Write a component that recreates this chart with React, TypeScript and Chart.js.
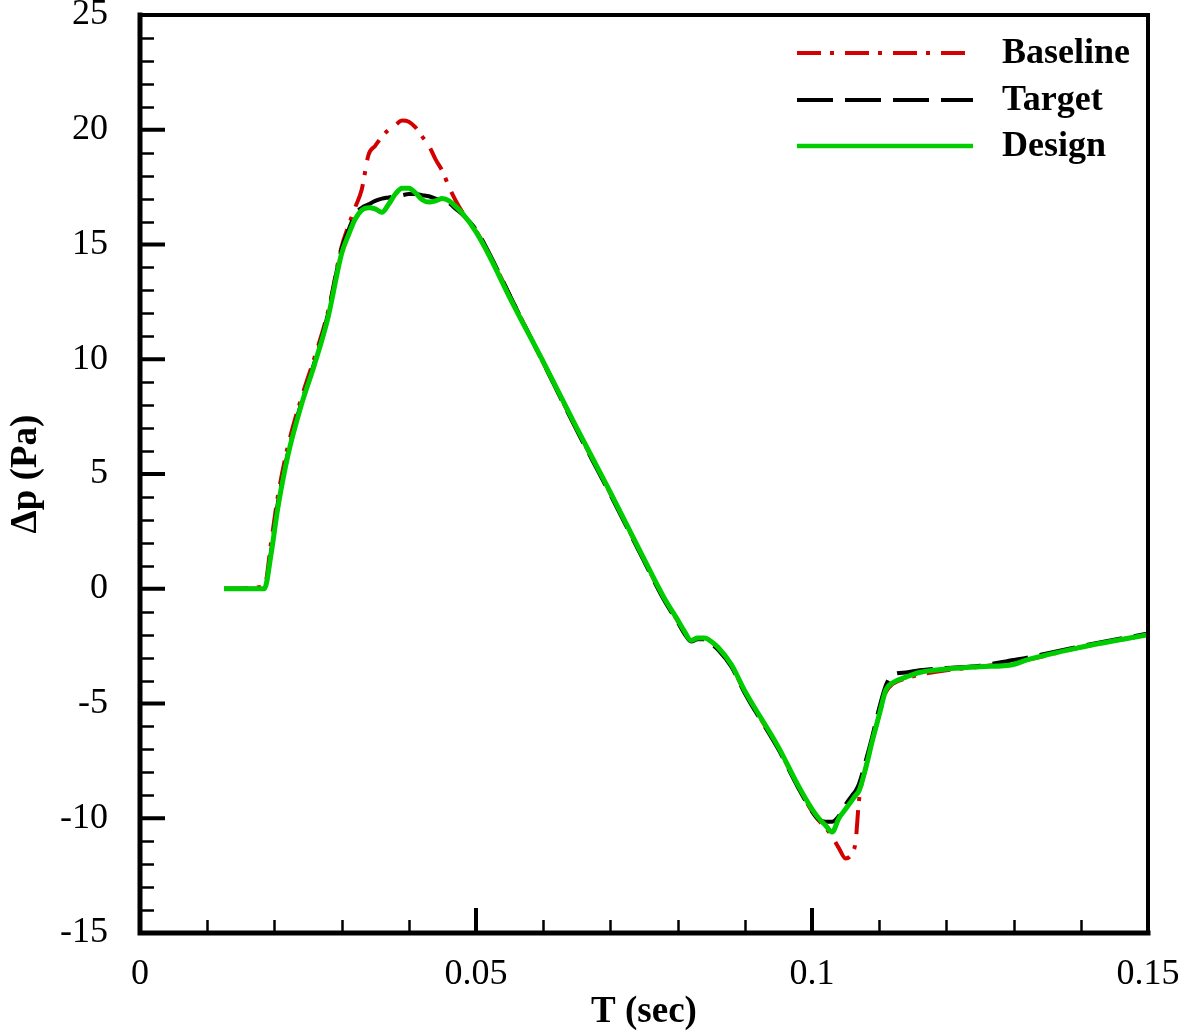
import React, { useEffect, useRef } from 'react';
import { Chart, registerables } from 'chart.js';

Chart.register(...registerables);

// ---------- data ----------
const timeSec = [
  0.0125, 0.0185, 0.0195, 0.0205, 0.022, 0.024, 0.026, 0.028, 0.030, 0.031,
  0.032, 0.033, 0.034, 0.035, 0.036, 0.037, 0.038, 0.039, 0.040, 0.041,
  0.042, 0.043, 0.044, 0.045, 0.046, 0.047, 0.048, 0.050, 0.052, 0.055,
  0.060, 0.065, 0.070, 0.075, 0.078, 0.080, 0.081, 0.082, 0.083, 0.084,
  0.085, 0.086, 0.088, 0.090, 0.095, 0.098, 0.100, 0.101, 0.102, 0.103,
  0.104, 0.105, 0.106, 0.1065, 0.107, 0.108, 0.109, 0.110, 0.111, 0.112,
  0.114, 0.116, 0.120, 0.125, 0.130, 0.132, 0.140, 0.150,
];

const baselineDp = [
  0, 0.1, 2.0, 4.0, 6.2, 8.3, 10.1, 12.1, 14.9, 15.8,
  16.6, 17.4, 18.9, 19.3, 19.7, 20.0, 20.2, 20.4, 20.35, 20.1,
  19.7, 19.3, 18.7, 18.2, 17.5, 16.9, 16.4, 15.6, 14.55, 12.8,
  9.85, 6.95, 4.15, 1.25, -0.45, -1.4, -1.9, -2.25, -2.15, -2.15,
  -2.3, -2.6, -3.35, -4.5, -6.95, -8.65, -9.7, -10.1, -10.4, -10.8,
  -11.3, -11.75, -11.5, -11.0, -9.2, -7.8, -6.6, -5.5, -4.5, -4.15,
  -3.9, -3.75, -3.55, -3.4, -3.2, -3.1, -2.55, -2.0,
];

const targetDp = [
  0, 0, 1.6, 3.7, 5.9, 8.1, 9.9, 12.0, 14.8, 15.6,
  16.3, 16.6, 16.75, 16.9, 17.0, 17.05, 17.1, 17.15, 17.2, 17.2,
  17.15, 17.1, 17.0, 16.95, 16.8, 16.55, 16.3, 15.65, 14.6, 12.8,
  9.85, 6.9, 4.1, 1.2, -0.5, -1.45, -1.95, -2.3, -2.2, -2.2,
  -2.4, -2.65, -3.4, -4.55, -7.0, -8.7, -9.7, -10.05, -10.15, -10.15,
  -9.9, -9.4, -9.0, -8.8, -8.5, -7.5, -6.4, -5.2, -4.2, -3.75,
  -3.65, -3.55, -3.45, -3.35, -3.1, -3.0, -2.5, -1.95,
];

const designDp = [
  0, 0, 1.5, 3.5, 5.8, 8.0, 9.8, 11.85, 14.6, 15.4,
  16.1, 16.5, 16.6, 16.55, 16.4, 16.75, 17.2, 17.45, 17.45, 17.25,
  16.95, 16.85, 16.9, 17.0, 16.9, 16.65, 16.35, 15.55, 14.5, 12.7,
  9.9, 7.0, 4.2, 1.3, -0.4, -1.35, -1.85, -2.25, -2.15, -2.15,
  -2.3, -2.55, -3.3, -4.45, -6.9, -8.6, -9.6, -10.0, -10.3, -10.6,
  -10.0, -9.6, -9.2, -9.0, -8.8, -7.8, -6.6, -5.5, -4.4, -4.1,
  -3.85, -3.65, -3.5, -3.4, -3.3, -3.1, -2.55, -2.0,
];

const seriesNames = ['Baseline', 'Target', 'Design'];
const xTickValues = [0, 0.05, 0.1, 0.15];
const xTickLabels = ['0', '0.05', '0.1', '0.15'];
const yTickValues = [-15, -10, -5, 0, 5, 10, 15, 20, 25];
const yTickLabels = ['-15', '-10', '-5', '0', '5', '10', '15', '20', '25'];
const xMinorStep = 0.01;
const yMinorStep = 1;

// ---------- styles ----------
const FONT = '"Liberation Serif", "Times New Roman", serif';
const RED = 'rgb(210,0,0)';
const BLACK = '#000000';
const GREEN = 'rgb(0,205,0)';
const seriesColors = [RED, BLACK, GREEN];
const seriesDash = [[24, 9, 4, 11], [36, 12], []];
const seriesWidth = [4, 4, 5];

const framePlugin = {
  id: 'frameTicks',
  afterDraw(chart: any) {
    const { ctx, chartArea, scales } = chart;
    const { left, right, top, bottom } = chartArea;
    const xs = scales.x;
    const ys = scales.y;
    ctx.save();
    ctx.strokeStyle = '#000';
    ctx.lineCap = 'butt';
    // minor ticks
    ctx.lineWidth = 2.5;
    for (let i = 0; i <= Math.round(0.15 / xMinorStep); i++) {
      if (i % 5 === 0) continue;
      const px = Math.round(xs.getPixelForValue(i * xMinorStep)) + 0.5;
      ctx.beginPath();
      ctx.moveTo(px, bottom);
      ctx.lineTo(px, bottom - 13);
      ctx.stroke();
    }
    for (let v = -15; v <= 25; v += yMinorStep) {
      if (v % 5 === 0) continue;
      const py = Math.round(ys.getPixelForValue(v)) + 0.5;
      ctx.beginPath();
      ctx.moveTo(left, py);
      ctx.lineTo(left + 14, py);
      ctx.stroke();
    }
    // major ticks
    ctx.lineWidth = 4;
    xTickValues.forEach((v) => {
      const px = xs.getPixelForValue(v);
      ctx.beginPath();
      ctx.moveTo(px, bottom);
      ctx.lineTo(px, bottom - 25);
      ctx.stroke();
    });
    yTickValues.forEach((v) => {
      const py = ys.getPixelForValue(v);
      ctx.beginPath();
      ctx.moveTo(left, py);
      ctx.lineTo(left + 25, py);
      ctx.stroke();
    });
    // frame
    ctx.lineCap = 'square';
    ctx.lineWidth = 4;
    ctx.beginPath();
    ctx.moveTo(left, top);
    ctx.lineTo(right, top);
    ctx.lineTo(right, bottom);
    ctx.stroke();
    ctx.lineWidth = 5;
    ctx.beginPath();
    ctx.moveTo(left, top);
    ctx.lineTo(left, bottom);
    ctx.lineTo(right, bottom);
    ctx.stroke();
    ctx.restore();
  },
};

const legendPlugin = {
  id: 'customLegend',
  afterDraw(chart: any) {
    const { ctx } = chart;
    const x0 = 797;
    const x1 = 973;
    const tx = 1002;
    const rows = [53, 100, 146];
    ctx.save();
    seriesNames.forEach((name, i) => {
      const y = rows[i];
      ctx.strokeStyle = seriesColors[i];
      ctx.lineWidth = seriesWidth[i] === 5 ? 4.5 : 4;
      ctx.setLineDash(seriesDash[i]);
      ctx.beginPath();
      ctx.moveTo(x0, y);
      ctx.lineTo(x1, y);
      ctx.stroke();
      ctx.setLineDash([]);
      ctx.fillStyle = '#000';
      ctx.font = `bold 36px ${FONT}`;
      ctx.textAlign = 'left';
      ctx.textBaseline = 'middle';
      ctx.fillText(name, tx, y + 1);
    });
    ctx.restore();
  },
};

export default function App() {
  const canvasRef = useRef<HTMLCanvasElement>(null);

  useEffect(() => {
    document.body.style.margin = '0';
    const canvas = canvasRef.current;
    if (!canvas) return;
    const toPoints = (vals: number[]) => timeSec.map((t, i) => ({ x: t, y: vals[i] }));
    const seriesValues = [baselineDp, targetDp, designDp];
    const orders = [2, 1, 0];

    const chart = new Chart(canvas, {
      type: 'line',
      data: {
        datasets: seriesNames.map((name, i) => ({
          label: name,
          data: toPoints(seriesValues[i]),
          borderColor: seriesColors[i],
          backgroundColor: seriesColors[i],
          borderWidth: seriesWidth[i],
          borderDash: seriesDash[i],
          pointRadius: 0,
          cubicInterpolationMode: 'monotone',
          fill: false,
          order: orders[i],
        })),
      },
      options: {
        responsive: false,
        animation: false,
        layout: { padding: { top: 15, right: 32, left: 0, bottom: 0 } },
        plugins: {
          legend: { display: false },
          tooltip: { enabled: false },
        },
        scales: {
          x: {
            type: 'linear',
            min: 0,
            max: 0.15,
            afterBuildTicks: (scale: any) => {
              scale.ticks = xTickValues.map((v) => ({ value: v }));
            },
            afterFit: (scale: any) => {
              scale.height = 102;
              scale.paddingLeft = 0;
              scale.paddingRight = 0;
              scale.paddingTop = 0;
              scale.paddingBottom = 0;
            },
            grid: { display: false, drawTicks: false },
            border: { display: false },
            ticks: {
              autoSkip: false,
              maxRotation: 0,
              padding: 24,
              color: '#000',
              font: { family: FONT, size: 36, lineHeight: 1 },
              callback: (_v: any, i: number) => xTickLabels[i],
            },
            title: {
              display: true,
              text: 'T (sec)',
              color: '#000',
              font: { family: FONT, size: 37, weight: 'bold' },
              padding: { top: 0, bottom: 0 },
            },
          },
          y: {
            type: 'linear',
            min: -15,
            max: 25,
            afterBuildTicks: (scale: any) => {
              scale.ticks = yTickValues.map((v) => ({ value: v }));
            },
            afterFit: (scale: any) => {
              scale.width = 140;
              scale.paddingLeft = 0;
              scale.paddingRight = 0;
              scale.paddingTop = 0;
              scale.paddingBottom = 0;
            },
            grid: { display: false, drawTicks: false },
            border: { display: false },
            ticks: {
              padding: 32,
              color: '#000',
              font: { family: FONT, size: 36, lineHeight: 0.8 },
              callback: (_v: any, i: number) => yTickLabels[i],
            },
            title: {
              display: true,
              text: 'Δp (Pa)',
              color: '#000',
              font: { family: FONT, size: 37, weight: 'bold' },
              padding: { top: 4, bottom: 0 },
            },
          },
        },
      } as any,
      plugins: [framePlugin, legendPlugin],
    });
    return () => chart.destroy();
  }, []);

  return (
    <div style={{ width: 1180, height: 1035 }}>
      <canvas ref={canvasRef} width={1180} height={1035} style={{ display: 'block' }} />
    </div>
  );
}
